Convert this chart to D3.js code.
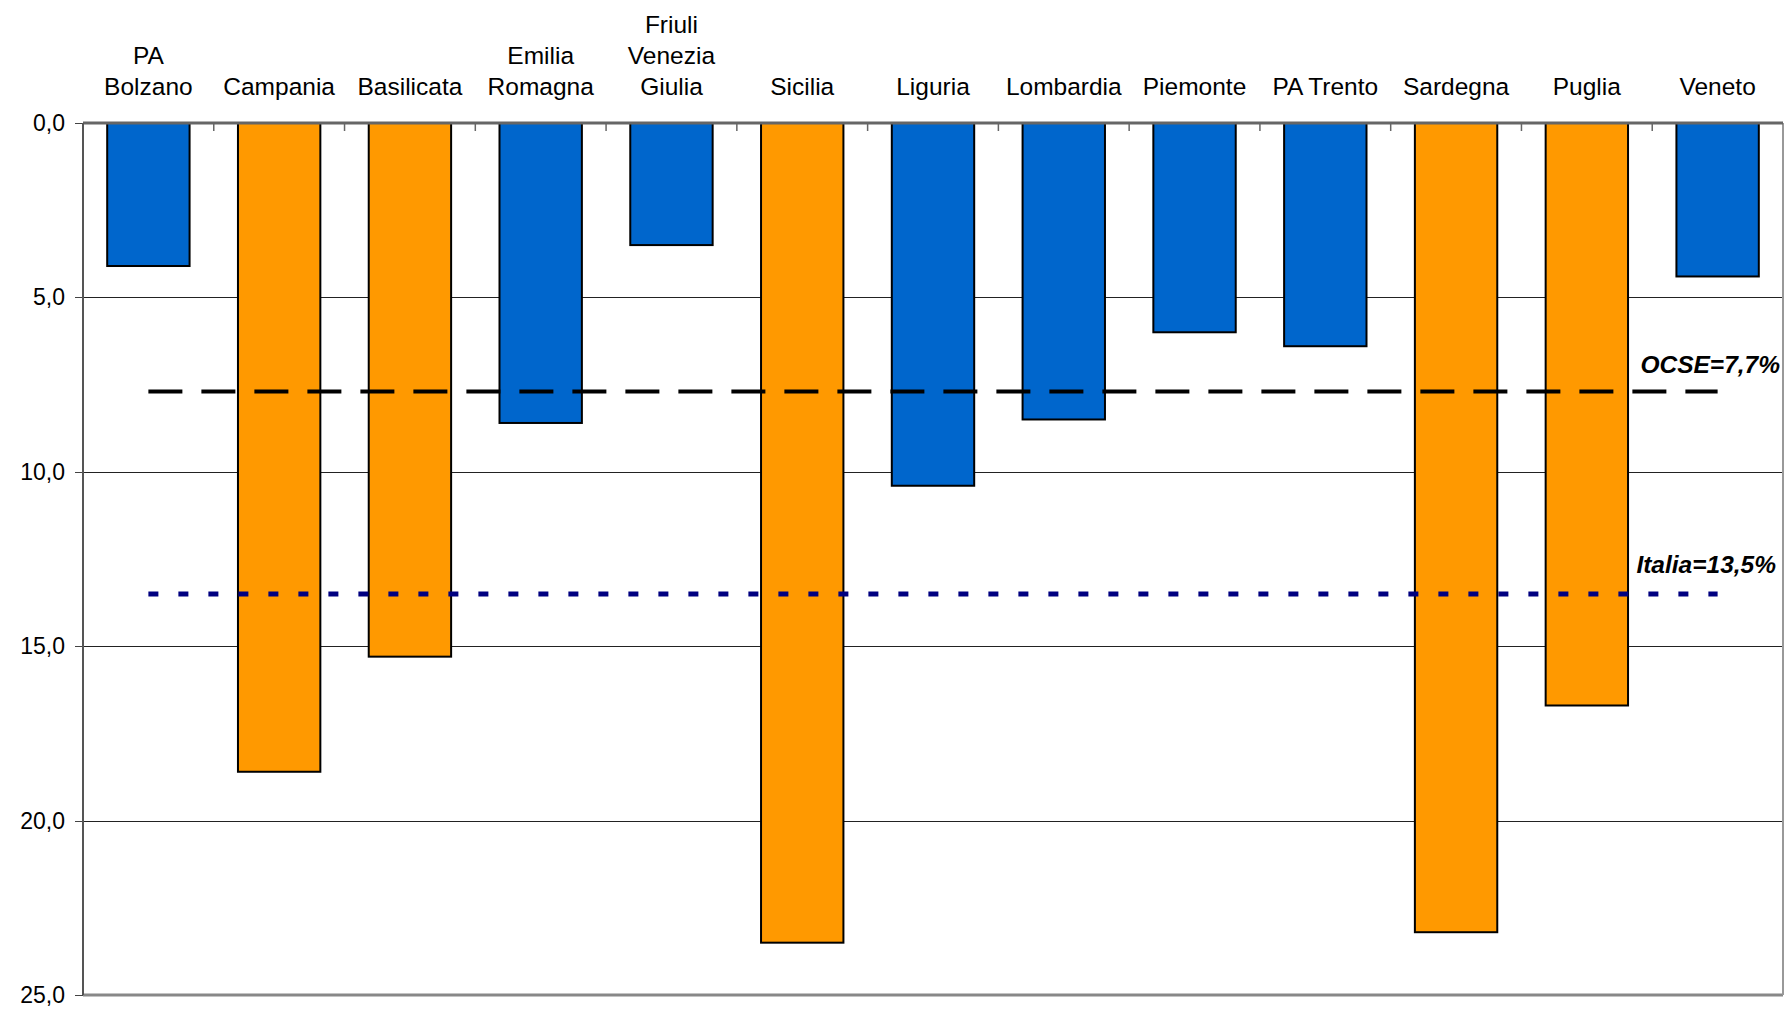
<!DOCTYPE html>
<html>
<head>
<meta charset="utf-8">
<script src="https://cdn.jsdelivr.net/npm/d3@7"></script>
<style>
  body { margin: 0; background: #fff; }
  svg { display: block; font-family: "Liberation Sans", Arial, sans-serif; }
</style>
</head>
<body>
<div id="graph"></div>
<script>
var regions = ['PA\nBolzano', 'Campania', 'Basilicata', 'Emilia\nRomagna', 'Friuli\nVenezia\nGiulia',
  'Sicilia', 'Liguria', 'Lombardia', 'Piemonte', 'PA Trento', 'Sardegna', 'Puglia', 'Veneto']
var values = [4.1, 18.6, 15.3, 8.6, 3.5, 23.5, 10.4, 8.5, 6.0, 6.4, 23.2, 16.7, 4.4]
var area = ['nord', 'sud', 'sud', 'nord', 'nord', 'sud', 'nord', 'nord', 'nord', 'nord', 'sud', 'sud', 'nord']
var yTicks = [0, 5, 10, 15, 20, 25]
var refNames = ['OCSE', 'Italia']
var refValues = [7.7, 13.5]

var width = 1787, height = 1009
var margin = {top: 123, right: 4, bottom: 14, left: 83}
var iw = width - margin.left - margin.right
var ih = height - margin.top - margin.bottom

var svg = d3.select('#graph').append('svg')
  .attr('width', width).attr('height', height)

var g = svg.append('g').attr('transform', `translate(${margin.left},${margin.top})`)

var x = d3.scaleBand().domain(regions).range([0, iw]).paddingInner(0.37).paddingOuter(0.185)
var step = iw / regions.length
var y = d3.scaleLinear().domain([0, 25]).range([0, ih])
var color = d3.scaleOrdinal().domain(['nord', 'sud']).range(['#0066CC', '#FF9900'])
var fmt = d => d3.format('.1f')(d).replace('.', ',')

// gridlines
g.selectAll('line.grid').data(yTicks.filter(d => d > 0 && d < 25)).join('line')
  .attr('class', 'grid')
  .attr('x1', 0).attr('x2', iw)
  .attr('y1', d => Math.round(y(d)) + .5).attr('y2', d => Math.round(y(d)) + .5)
  .attr('stroke', '#222').attr('stroke-width', 1)

// y ticks + labels
g.selectAll('line.ytick').data(yTicks).join('line')
  .attr('class', 'ytick')
  .attr('x1', -8).attr('x2', 0)
  .attr('y1', d => Math.round(y(d)) + .5).attr('y2', d => Math.round(y(d)) + .5)
  .attr('stroke', '#444')
g.selectAll('text.ylab').data(yTicks).join('text')
  .attr('class', 'ylab')
  .attr('x', -18).attr('y', d => y(d))
  .attr('dy', '0.35em')
  .attr('text-anchor', 'end')
  .attr('font-size', 23)
  .text(fmt)

// bottom + right frame
g.append('line').attr('x1', 0).attr('x2', iw).attr('y1', ih).attr('y2', ih)
  .attr('stroke', '#888').attr('stroke-width', 3)
g.append('line').attr('x1', iw).attr('x2', iw).attr('y1', 0).attr('y2', ih)
  .attr('stroke', '#999').attr('stroke-width', 2)

// bars
g.selectAll('rect.bar').data(regions).join('rect')
  .attr('class', 'bar')
  .attr('x', d => x(d))
  .attr('y', 0)
  .attr('width', x.bandwidth())
  .attr('height', (d, i) => y(values[i]))
  .attr('fill', (d, i) => color(area[i]))
  .attr('stroke', '#000').attr('stroke-width', 2)

// zero axis + left axis
g.append('line').attr('x1', 0).attr('x2', iw).attr('y1', 0).attr('y2', 0)
  .attr('stroke', '#666').attr('stroke-width', 3)
g.append('line').attr('x1', 0).attr('x2', 0).attr('y1', 0).attr('y2', ih)
  .attr('stroke', '#555').attr('stroke-width', 2)
g.selectAll('line.xtick').data(d3.range(1, regions.length)).join('line')
  .attr('class', 'xtick')
  .attr('x1', d => d * step).attr('x2', d => d * step)
  .attr('y1', 0).attr('y2', 8)
  .attr('stroke', '#666').attr('stroke-width', 1.5)

// category labels
var lineH = 31
g.selectAll('text.cat').data(regions).join('text')
  .attr('class', 'cat')
  .attr('text-anchor', 'middle')
  .attr('font-size', 24.5)
  .attr('fill', '#000')
  .each(function(d) {
    var lines = d.split('\n')
    var cx = x(d) + x.bandwidth() / 2
    d3.select(this).selectAll('tspan').data(lines).join('tspan')
      .attr('x', cx)
      .attr('y', (l, i) => -28 - (lines.length - 1 - i) * lineH)
      .text(l => l)
  })

// reference lines
var x0 = x(regions[0]) + x.bandwidth() / 2
var x1 = x(regions[regions.length - 1]) + x.bandwidth() / 2
var refStyle = [
  {stroke: '#000', w: 4, dash: '34,19'},
  {stroke: '#000080', w: 5, dash: '10,20'}
]
refValues.forEach((v, i) => {
  g.append('line')
    .attr('x1', x0).attr('x2', x1)
    .attr('y1', y(v)).attr('y2', y(v))
    .attr('stroke', refStyle[i].stroke)
    .attr('stroke-width', refStyle[i].w)
    .attr('stroke-dasharray', refStyle[i].dash)
  g.append('text')
    .attr('x', iw - (i ? 7 : 3))
    .attr('y', y(v) + (i ? -21 : -19))
    .attr('text-anchor', 'end')
    .attr('font-size', 24.5)
    .attr('font-weight', 'bold')
    .attr('font-style', 'italic')
    .text(refNames[i] + '=' + fmt(v) + '%')
})
</script>
</body>
</html>
